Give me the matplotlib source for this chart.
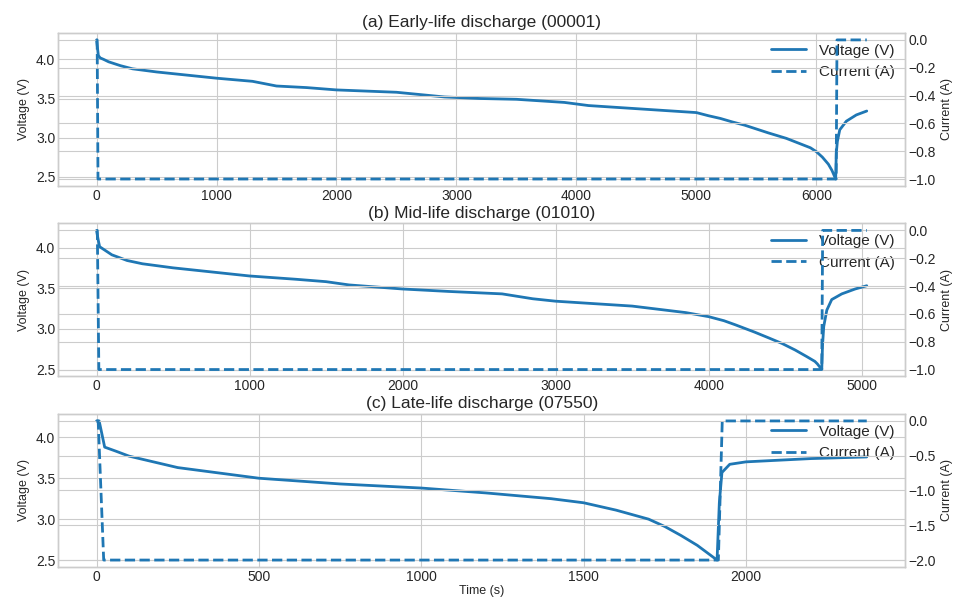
import matplotlib
matplotlib.use("Agg")
import matplotlib.pyplot as plt

# (a) early-life cycle 00001
t_a = [0, 15, 30, 60, 100, 200, 300, 500, 750, 1000, 1300, 1500, 1750, 2000, 2500, 2700,
       2900, 3200, 3500, 3900, 4100, 4500, 5000, 5100, 5200, 5300, 5400, 5500, 5600, 5750,
       5850, 5950, 6000, 6050, 6100, 6130, 6161, 6166, 6175, 6195, 6250, 6333, 6420]
v_a = [4.25, 4.05, 4.02, 4.00, 3.97, 3.92, 3.88, 3.84, 3.80, 3.76, 3.72, 3.66, 3.64, 3.61, 3.58, 3.55,
       3.52, 3.50, 3.49, 3.45, 3.41, 3.37, 3.32, 3.28, 3.245, 3.20, 3.16, 3.11, 3.06, 2.99,
       2.93, 2.87, 2.82, 2.75, 2.66, 2.58, 2.47, 2.80, 2.95, 3.10, 3.21, 3.29, 3.34]
ti_a = [0, 5, 12, 6165, 6172, 6420]
i_a = [0.0, 0.0, -1.0, -1.0, 0.0, 0.0]

# (b) mid-life cycle 01010
t_b = [0, 10, 20, 60, 100, 200, 300, 500, 750, 1000, 1300, 1500, 1650, 2000, 2300, 2650,
       2850, 3000, 3500, 3850, 4000, 4100, 4174, 4300, 4391, 4480, 4565, 4640, 4694, 4710,
       4739, 4744, 4752, 4772, 4804, 4870, 4957, 5033]
v_b = [4.21, 4.10, 4.01, 3.96, 3.91, 3.84, 3.80, 3.75, 3.70, 3.65, 3.61, 3.58, 3.54, 3.49, 3.46, 3.43,
       3.37, 3.34, 3.28, 3.20, 3.15, 3.10, 3.05, 2.96, 2.89, 2.82, 2.74, 2.66, 2.60, 2.57,
       2.50, 2.80, 3.03, 3.23, 3.36, 3.43, 3.49, 3.53]
ti_b = [0, 5, 15, 4739, 4745, 5033]
i_b = [0.0, 0.0, -1.0, -1.0, 0.0, 0.0]

# (c) late-life cycle 07550
t_c = [0, 8, 25, 60, 100, 250, 500, 750, 1000, 1200, 1400, 1500, 1600, 1700, 1750, 1800,
       1850, 1911, 1918, 1926, 1950, 2000, 2100, 2200, 2372]
v_c = [4.20, 4.20, 3.88, 3.83, 3.77, 3.63, 3.50, 3.43, 3.38, 3.32, 3.25, 3.20, 3.11, 3.00, 2.91, 2.80,
       2.68, 2.50, 3.20, 3.57, 3.67, 3.70, 3.72, 3.74, 3.76]
ti_c = [0, 5, 22, 1915, 1927, 2372]
i_c = [0.0, 0.0, -2.0, -2.0, 0.0, 0.0]

titles = ["(a) Early-life discharge (00001)",
          "(b) Mid-life discharge (01010)",
          "(c) Late-life discharge (07550)"]
current_ticks = [[0.0, -0.2, -0.4, -0.6, -0.8, -1.0],
                 [0.0, -0.2, -0.4, -0.6, -0.8, -1.0],
                 [0.0, -0.5, -1.0, -1.5, -2.0]]


def main():
    plt.style.use("seaborn-v0_8-whitegrid")
    plt.rcParams["font.family"] = ["Liberation Sans", "DejaVu Sans"]

    fig, axes = plt.subplots(3, 1, figsize=(9.61, 5.99), dpi=100)
    fig.subplots_adjust(left=0.0604, right=0.942, top=0.945, bottom=0.0534, hspace=0.245)

    panels = [(t_a, v_a, ti_a, i_a), (t_b, v_b, ti_b, i_b), (t_c, v_c, ti_c, i_c)]
    color = "#1f77b4"
    for k, (ax, (t, v, ti, i)) in enumerate(zip(axes, panels)):
        ax2 = ax.twinx()
        l1, = ax.plot(t, v, "-", color=color, linewidth=2, label="Voltage (V)")
        l2, = ax2.plot(ti, i, "--", color=color, linewidth=2, label="Current (A)")
        ax.set_title(titles[k], fontsize=12.5, pad=4)
        ax.set_ylabel("Voltage (V)", fontsize=9)
        ax2.set_ylabel("Current (A)", fontsize=9)
        ax.tick_params(labelsize=10, pad=2)
        ax2.tick_params(labelsize=10, pad=2)
        ax.set_yticks([2.5, 3.0, 3.5, 4.0])
        ax2.set_yticks(current_ticks[k])
        ax.legend([l1, l2], ["Voltage (V)", "Current (A)"], loc="upper right",
                  frameon=False, fontsize=11, borderaxespad=0.3, handlelength=2.3)
        for a in (ax, ax2):
            for s in a.spines.values():
                s.set_color("#cccccc")
    axes[2].set_xlabel("Time (s)", fontsize=9, labelpad=1)

    plt.savefig("out.png", dpi=100)
    plt.close()


if __name__ == "__main__":
    main()
